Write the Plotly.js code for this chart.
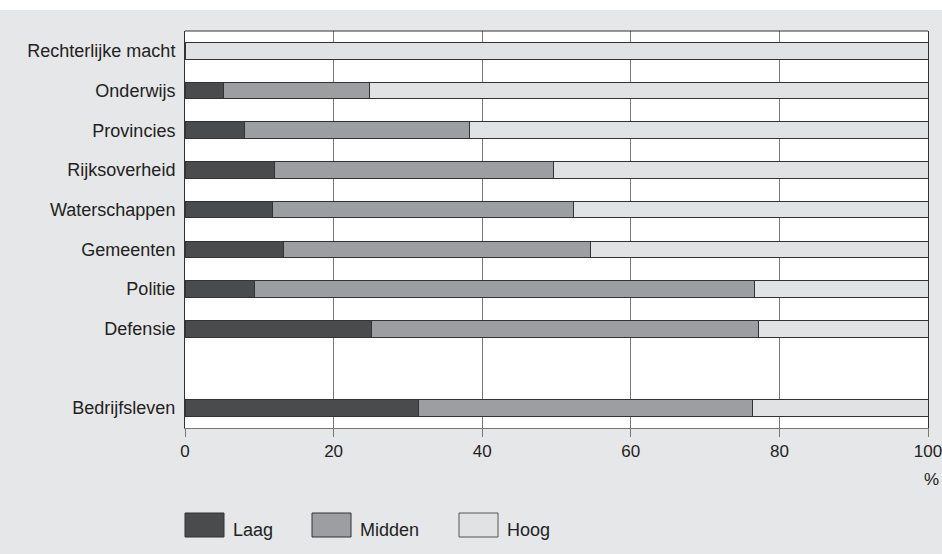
<!DOCTYPE html>
<html>
<head>
<meta charset="utf-8">
<script src="https://cdn.plot.ly/plotly-3.0.1.min.js"></script>
<style>
  html, body { margin: 0; padding: 0; background: #ffffff; }
  #chart { position: absolute; left: 0; top: 10px; width: 942px; height: 544px; }
</style>
</head>
<body>
<div id="chart"></div>
<script>
// Data
const categories = ["Rechterlijke macht", "Onderwijs", "Provincies", "Rijksoverheid", "Waterschappen", "Gemeenten", "Politie", "Defensie", "", "Bedrijfsleven"];
const seriesNames = ["Laag", "Midden", "Hoog"];
const laag   = [null, 5.2,  8.0, 12.1, 11.8, 13.3,  9.4, 25.1, null, 31.4];
const midden = [null, 19.6, 30.3, 37.5, 40.5, 41.3, 67.3, 52.1, null, 45.0];
const hoog   = [100, 75.2, 61.7, 50.4, 47.7, 45.4, 23.3, 22.8, null, 23.6];
const xTicks = [0, 20, 40, 60, 80, 100];
const xUnit = "%";

const colors = ["#4a4b4d", "#9d9ea1", "#e1e2e3"];
const values = [laag, midden, hoog];
const yPos = categories.map((c, i) => i);
const FONT = "Liberation Sans, Arial, sans-serif";

const traces = values.map((v, k) => ({
  type: "bar",
  orientation: "h",
  name: seriesNames[k],
  x: v,
  y: yPos,
  width: 0.42,
  marker: { color: colors[k], line: { color: "#333333", width: 1 } },
  showlegend: false,
  hoverinfo: "x+name"
}));

// Custom legend (large swatches)
const shapes = [];
const annotations = [];
const plotW = 743, plotH = 397;
const swX = [185, 312, 459];
const txX = [231, 358, 505];
seriesNames.forEach((n, k) => {
  shapes.push({
    type: "rect", xref: "paper", yref: "paper",
    x0: (swX[k] - 185) / plotW, x1: (swX[k] + 39 - 185) / plotW,
    y0: (418 - 503) / plotH, y1: (418 - 527) / plotH,
    fillcolor: colors[k], line: { color: k === 2 ? "#555555" : "#333333", width: 1 }
  });
  annotations.push({
    xref: "paper", yref: "paper",
    x: (txX[k] - 185) / plotW, y: (418 - 520) / plotH,
    xanchor: "left", yanchor: "middle",
    text: n, showarrow: false,
    font: { family: FONT, size: 18, color: "#222222" }
  });
});
annotations.push({
  xref: "paper", yref: "paper",
  x: (941 - 185) / plotW, y: (418 - 469) / plotH,
  xanchor: "right", yanchor: "middle",
  text: xUnit, showarrow: false,
  font: { family: FONT, size: 17, color: "#222222" }
});

const layout = {
  width: 942, height: 544,
  barmode: "stack",
  paper_bgcolor: "#e6e7e8",
  plot_bgcolor: "#ffffff",
  margin: { l: 185, r: 14, t: 21, b: 126, pad: 0 },
  font: { family: FONT, size: 17, color: "#222222" },
  xaxis: {
    range: [0, 100],
    tickvals: xTicks,
    ticktext: xTicks.map(String),
    showgrid: true, gridcolor: "#7a7a7a", gridwidth: 1,
    zeroline: false,
    showline: true, linecolor: "#777777", linewidth: 1, mirror: false,
    ticks: "outside", ticklen: 8, tickcolor: "#777777", tickwidth: 1,
    tickfont: { size: 17, color: "#222222" },
    ticklabeloverflow: "allow",
    automargin: false,
    fixedrange: true
  },
  yaxis: {
    range: [9.5, -0.5],
    tickvals: yPos,
    ticktext: categories,
    showgrid: false, zeroline: false,
    showline: true, linecolor: "#333333", linewidth: 1, mirror: true,
    ticks: "", ticklabelstandoff: 5,
    tickfont: { size: 18, color: "#222222" },
    automargin: false,
    fixedrange: true
  },
  shapes: shapes.concat([{
    type: "line", xref: "paper", yref: "paper",
    x0: 0, x1: 1, y0: 1, y1: 1, line: { color: "#333333", width: 1 }
  }]),
  annotations: annotations,
  showlegend: false,
  bargap: 0.58
};

Plotly.newPlot("chart", traces, layout, { displayModeBar: false, staticPlot: true });
</script>
</body>
</html>
